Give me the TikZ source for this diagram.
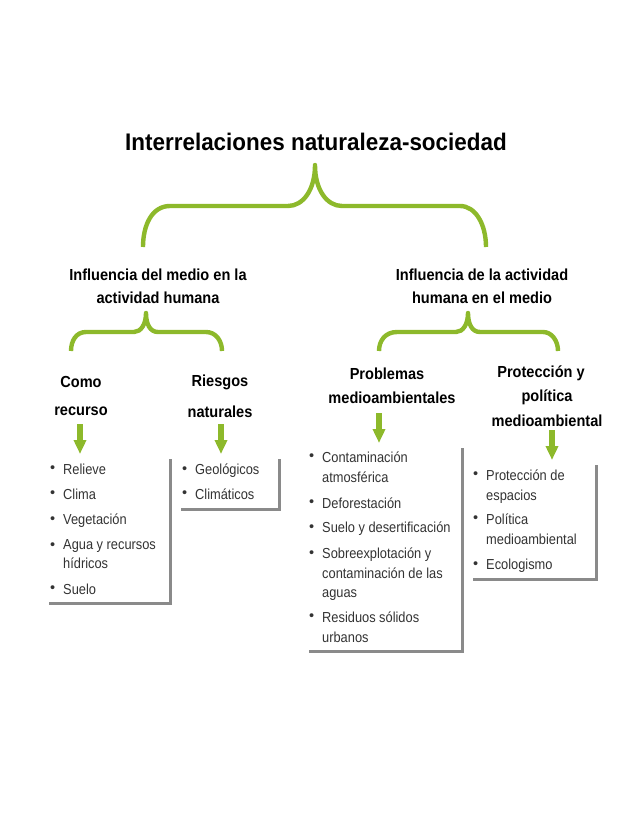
\documentclass[tikz,border=0pt]{standalone}
\usepackage{fontspec}
\setmainfont{Liberation Sans}
\newfontfamily\titlefont[FakeStretch=.935]{Liberation Sans}
\newfontfamily\headfont[FakeStretch=.91]{Liberation Sans}
\newfontfamily\listfont[FakeStretch=.885]{Liberation Sans}
\usetikzlibrary{arrows.meta}
\definecolor{leaf}{HTML}{8DB92B}
\definecolor{rule}{HTML}{8A8A8A}
\tikzset{
  titlenode/.style={font=\titlefont\fontsize{24}{28}\selectfont\bfseries,inner sep=0pt},
  headnode/.style={font=\headfont\fontsize{16}{20}\selectfont\bfseries,inner sep=0pt,yshift=-.3pt},
  listnode/.style={font=\listfont\fontsize{14.5}{18}\selectfont,text=black!80,anchor=mid west,inner sep=0pt,yshift=-2.5pt},
  bul/.style={label={[label distance=7.5pt,font=\fontsize{14.5}{18}\selectfont,inner sep=0pt,text=black!80]left:\textbullet}},
  brace/.style={leaf,line width=4.4pt,line join=round},
  downarrow/.style={leaf,line width=5.5pt,-{Triangle[width=12pt,length=14pt]}},
  frameline/.style={rule,line width=3pt}
}
\begin{document}
\begin{tikzpicture}[x=1pt,y=-1pt]
  \useasboundingbox (0,0) rectangle (638,826);
  \node[titlenode] (title) at (316,142) {Interrelaciones naturaleza-sociedad};
  % headings
  \node[headnode] (medioA) at (158,274) {Influencia del medio en la};
  \node[headnode] (medioB) at (158,297) {actividad humana};
  \node[headnode] (activA) at (482,274) {Influencia de la actividad};
  \node[headnode] (activB) at (482,297) {humana en el medio};
  \node[headnode] (comoA) at (81,382) {Como};
  \node[headnode] (comoB) at (81,411) {recurso};
  \node[headnode] (riesA) at (220,382) {Riesgos};
  \node[headnode] (riesB) at (220,411) {naturales};
  \node[headnode] (probA) at (387,373) {Problemas};
  \node[headnode] (probB) at (392,397) {medioambientales};
  \node[headnode] (protA) at (541,373) {Protección y};
  \node[headnode] (protB) at (547,397) {política};
  \node[headnode] (protC) at (547,420) {medioambiental};
  % braces
  \coordinate (tipA) at (315,165);
  \coordinate (tipB) at (146,313);
  \coordinate (tipC) at (468,313);
  \draw[brace] (143,247) .. controls (143,225) and (152,206) .. (170,206) -- (288,206)
    .. controls (303,206) and (315,190) .. (tipA) .. controls (315,190) and (327,206) .. (342,206)
    -- (460,206) .. controls (476,206) and (486,225) .. (486,247);
  \draw[brace] (71,351) .. controls (71,341) and (76,332) .. (86,332) -- (134,332)
    .. controls (141,332) and (146,324) .. (tipB) .. controls (146,324) and (150,332) .. (158,332)
    -- (206,332) .. controls (216,332) and (222,341) .. (222,351);
  \draw[brace] (379,351) .. controls (379,341) and (385,332) .. (397,332) -- (456,332)
    .. controls (463,332) and (468,324) .. (tipC) .. controls (468,324) and (472,332) .. (480,332)
    -- (543,332) .. controls (552,332) and (558,341) .. (558,351);
  % arrows
  \coordinate (arrA) at (80,424);
  \coordinate (endA) at (80,454);
  \coordinate (arrB) at (221,424);
  \coordinate (endB) at (221,454);
  \coordinate (arrC) at (379,413);
  \coordinate (endC) at (379,443);
  \coordinate (arrD) at (552,430);
  \coordinate (endD) at (552,460);
  \foreach \s/\e in {arrA/endA,arrB/endB,arrC/endC,arrD/endD} \draw[downarrow] (\s) -- (\e);
  % lists
  \node[listnode,bul] (a1) at (63,469) {Relieve};
  \node[listnode,bul] (a2) at (63,494) {Clima};
  \node[listnode,bul] (a3) at (63,519) {Vegetación};
  \node[listnode,bul] (a4) at (63,544) {Agua y recursos};
  \node[listnode] (a5) at (63,563) {hídricos};
  \node[listnode,bul] (a6) at (63,589) {Suelo};
  \node[listnode,bul] (b1) at (195,469) {Geológicos};
  \node[listnode,bul] (b2) at (195,494) {Climáticos};
  \node[listnode,bul] (c1) at (322,457) {Contaminación};
  \node[listnode] (c2) at (322,477) {atmosférica};
  \node[listnode,bul] (c3) at (322,503) {Deforestación};
  \node[listnode,bul] (c4) at (322,527) {Suelo y desertificación};
  \node[listnode,bul] (c5) at (322,553) {Sobreexplotación y};
  \node[listnode] (c6) at (322,573) {contaminación de las};
  \node[listnode] (c7) at (322,592) {aguas};
  \node[listnode,bul] (c8) at (322,617) {Residuos sólidos};
  \node[listnode] (c9) at (322,637) {urbanos};
  \node[listnode,bul] (d1) at (486,475) {Protección de};
  \node[listnode] (d2) at (486,495) {espacios};
  \node[listnode,bul] (d3) at (486,519) {Política};
  \node[listnode] (d4) at (486,539) {medioambiental};
  \node[listnode,bul] (d5) at (486,564) {Ecologismo};
  % frames
  \draw[frameline] (170,459) -- (170,603) -- (49,603);
  \draw[frameline] (279,459) -- (279,509) -- (181,509);
  \draw[frameline] (462,448) -- (462,651) -- (309,651);
  \draw[frameline] (596,465) -- (596,579) -- (473,579);
\end{tikzpicture}
\end{document}
